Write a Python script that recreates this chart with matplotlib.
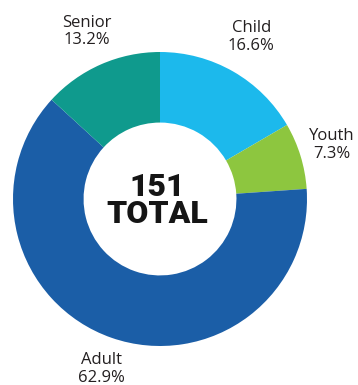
import matplotlib
matplotlib.use("Agg")
import matplotlib.pyplot as plt

# data
groups = ["Child", "Youth", "Adult", "Senior"]
shares = [16.6, 7.3, 62.9, 13.2]
colors = ["#1CB9EC", "#8DC63F", "#1B5EA7", "#0F9A8D"]
total = 151

fig = plt.figure(figsize=(3.58, 3.85), dpi=100)
ax = fig.add_axes([0, 0, 1, 1])

ax.pie(shares, colors=colors, startangle=90, counterclock=False,
       radius=1.0, wedgeprops=dict(width=0.48, linewidth=0))

# label positions (data coords, radius 1 = outer ring)
label_pos = {
    "Child": (0.62, 1.10),
    "Youth": (1.17, 0.37),
    "Adult": (-0.40, -1.155),
    "Senior": (-0.50, 1.14),
}
for g, s in zip(groups, shares):
    x, y = label_pos[g]
    ax.text(x, y, f"{g}\n{s:.1f}%", ha="center", va="center",
            fontsize=12, family="Open Sans", color="#231F20",
            linespacing=1.15)

ax.text(-0.02, -0.01, f"{total}\nTOTAL", ha="center", va="center",
        fontsize=23, fontweight=900, family=["Roboto", "Liberation Sans"],
        color="#151515", linespacing=0.87)

ax.set_xlim(-160 / 147, 198 / 147)
ax.set_ylim(-186 / 147, 199 / 147)
ax.set_aspect("equal")
ax.axis("off")

fig.savefig("out.png", dpi=100, facecolor="white")
